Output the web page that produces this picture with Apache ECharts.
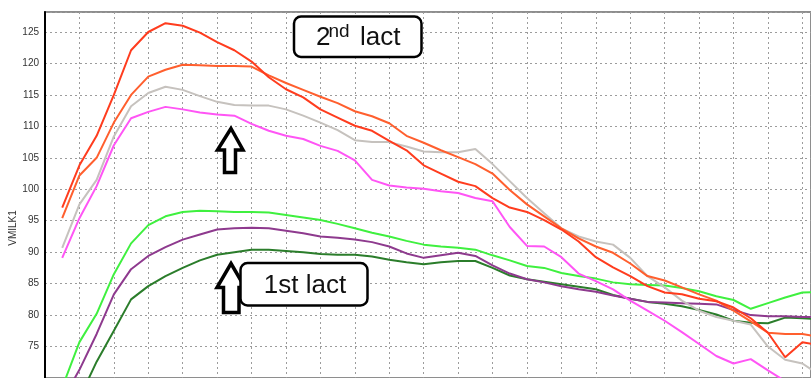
<!DOCTYPE html>
<html><head><meta charset="utf-8">
<script src="https://cdn.jsdelivr.net/npm/echarts@6/dist/echarts.min.js"></script>
<style>html,body{margin:0;padding:0;background:#fff}#c{width:811px;height:378px}</style>
</head><body><div id="c"></div>
<script>
// Days in milk (x positions of the curve points)
const days = [10,20,30,40,50,60,70,80,90,100,110,120,130,140,150,160,170,180,190,200,210,220,230,240,250,260,270,280,290,300,310,320,330,340,350,360,370,380,390,400,410,420,430,440,450];
// y-axis tick labels
const yTicks = [75,80,85,90,95,100,105,110,115,120,125];

// 2nd lactation curves
const red2 = [97.1,103.8,108.5,115.0,122.1,125.0,126.4,126.0,124.9,123.4,122.1,120.3,117.8,115.9,114.6,112.7,111.4,110.1,109.3,107.7,106.2,103.8,102.5,101.2,100.5,98.6,97.1,96.4,95.1,93.6,91.7,89.2,87.6,86.2,84.6,83.6,83.3,82.6,82.2,81.2,79.5,77.2,73.3,75.7,75.2];
const orange2 = [95.4,102.2,105.0,110.6,115.0,117.9,119.0,119.8,119.7,119.6,119.6,119.5,118.1,116.9,115.8,114.7,113.7,112.4,111.6,110.5,108.5,107.4,106.2,105.1,104.0,102.5,99.9,97.6,95.7,93.8,92.2,90.9,89.9,88.2,86.2,85.5,84.4,83.3,82.3,80.7,79.0,77.2,77.0,77.0,76.5];
const gray2 = [90.7,97.6,101.5,108.4,113.2,115.3,116.3,115.8,114.8,113.9,113.4,113.3,113.3,112.7,111.7,110.6,109.4,107.8,107.5,107.5,106.8,106.0,105.9,105.9,106.4,104.0,101.3,98.6,96.2,93.8,92.5,91.7,91.2,89.1,86.2,84.4,82.3,80.7,79.7,79.1,78.5,75.0,72.9,72.3,70.5];
const pink2 = [89.1,95.4,100.5,107.0,111.3,112.3,113.1,112.7,112.2,111.9,111.7,110.4,109.3,108.5,108.0,106.9,106.1,104.6,101.5,100.6,100.3,100.1,99.7,99.4,98.6,98.1,94.0,91.0,90.9,89.2,86.6,85.4,84.1,82.3,80.7,79.1,77.3,75.4,73.5,72.3,73.0,71.2,69.5,68.5,67.5];
// 1st lactation curves
const green1 = [68.5,75.7,80.2,86.5,91.4,94.3,95.7,96.4,96.6,96.5,96.4,96.4,96.3,95.9,95.5,95.1,94.5,93.8,93.1,92.5,91.8,91.2,90.9,90.7,90.4,89.5,88.7,87.8,87.5,86.7,86.2,85.8,85.2,84.9,84.8,84.7,84.3,83.8,83.0,82.4,81.0,81.9,82.8,83.6,83.7];
const purple1 = [66.5,71.3,77.0,83.3,87.3,89.4,90.8,92.0,92.8,93.6,93.8,93.9,93.8,93.4,93.0,92.5,92.3,92.0,91.6,90.9,89.8,89.1,89.5,89.9,89.4,87.9,86.6,85.7,85.2,84.6,84.1,83.7,83.1,82.6,82.1,82.0,81.9,81.8,81.7,80.8,80.0,79.8,79.8,79.7,79.7];
const dgreen1 = [62.0,66.8,72.6,77.5,82.5,84.6,86.2,87.5,88.7,89.6,90.0,90.4,90.4,90.2,90.0,89.7,89.6,89.6,89.3,88.8,88.4,88.1,88.4,88.6,88.6,87.5,86.3,85.7,85.3,84.9,84.5,84.1,83.2,82.6,82.1,81.8,81.4,80.8,80.1,79.1,78.8,78.7,79.6,79.5,79.3];

const seriesDefs = [
  {name:'1st A', data:dgreen1, color:'#2b7d2b'},
  {name:'1st B', data:purple1, color:'#8e3a8e'},
  {name:'1st C', data:green1, color:'#3ff03f'},
  {name:'2nd D', data:pink2, color:'#ff55f5'},
  {name:'2nd C', data:gray2, color:'#c6c2be'},
  {name:'2nd B', data:orange2, color:'#ff5f2e'},
  {name:'2nd A', data:red2, color:'#ff3c1e'}
];

const chart = echarts.init(document.getElementById('c'), null, {renderer:'canvas'});
const FONT = 'Liberation Sans, Arial, sans-serif';
const dash = {color:'#9c9c9c', type:[2,3], width:1};

chart.setOption({
  animation:false,
  backgroundColor:'#fff',
  grid:{left:45, right:-4, top:12, bottom:-4, show:true, borderColor:'#8e8e8e', borderWidth:2, backgroundColor:'transparent'},
  xAxis:{type:'value', min:0, max:445, interval:20,
    axisLine:{show:false}, axisTick:{show:false}, axisLabel:{show:false},
    splitLine:{show:true, lineStyle:dash}},
  yAxis:{type:'value', min:70, max:128.18, interval:5,
    axisLine:{show:true, lineStyle:{color:'#000', width:2}},
    axisTick:{show:false},
    axisLabel:{color:'#333', fontSize:10, fontFamily:FONT, margin:6,
      formatter:v => yTicks.includes(v) ? String(v) : ''},
    splitLine:{show:true, lineStyle:dash}},
  series: seriesDefs.map(s => ({
    type:'line', name:s.name, showSymbol:false, symbol:'none', clip:true,
    lineStyle:{color:s.color, width:2}, itemStyle:{color:s.color},
    data: days.map((d,i) => [d, s.data[i]])
  })),
  graphic:[
    {type:'text', x:13, y:228, rotation:Math.PI/2, z:50,
      style:{text:'VMILK1', font:'10px '+FONT, fill:'#333', align:'center', verticalAlign:'middle'}},
    // 2nd lact arrow
    {type:'polygon', z:60, shape:{points:[[231,128.5],[243,150],[235.5,150],[235.5,172.5],[224.5,172.5],[224.5,150],[217.5,150]]},
      style:{fill:'#fff', stroke:'#000', lineWidth:3.5, lineJoin:'miter'}},
    // 1st lact arrow
    {type:'polygon', z:60, shape:{points:[[231,263.5],[245,287.5],[239,287.5],[239,312.5],[223.5,312.5],[223.5,287.5],[217,287.5]]},
      style:{fill:'#fff', stroke:'#000', lineWidth:3.5, lineJoin:'miter'}},
    // 2nd lact box
    {type:'rect', z:70, shape:{x:294, y:16.5, width:127.5, height:40.5, r:7},
      style:{fill:'#fff', stroke:'#000', lineWidth:2.5}},
    {type:'text', z:71, x:316, y:37.5, style:{text:'2', font:'26px '+FONT, fill:'#111', align:'left', verticalAlign:'middle'}},
    {type:'text', z:71, x:328.5, y:31.5, style:{text:'nd', font:'19px '+FONT, fill:'#111', align:'left', verticalAlign:'middle'}},
    {type:'text', z:71, x:360, y:37.5, style:{text:'lact', font:'26px '+FONT, fill:'#111', align:'left', verticalAlign:'middle'}},
    // 1st lact box
    {type:'rect', z:70, shape:{x:240.5, y:263, width:127, height:42.5, r:7},
      style:{fill:'#fff', stroke:'#000', lineWidth:2.5}},
    {type:'text', z:71, x:305, y:285.5, style:{text:'1st lact', font:'26px '+FONT, fill:'#111', align:'center', verticalAlign:'middle'}}
  ]
});
</script>
</body></html>
